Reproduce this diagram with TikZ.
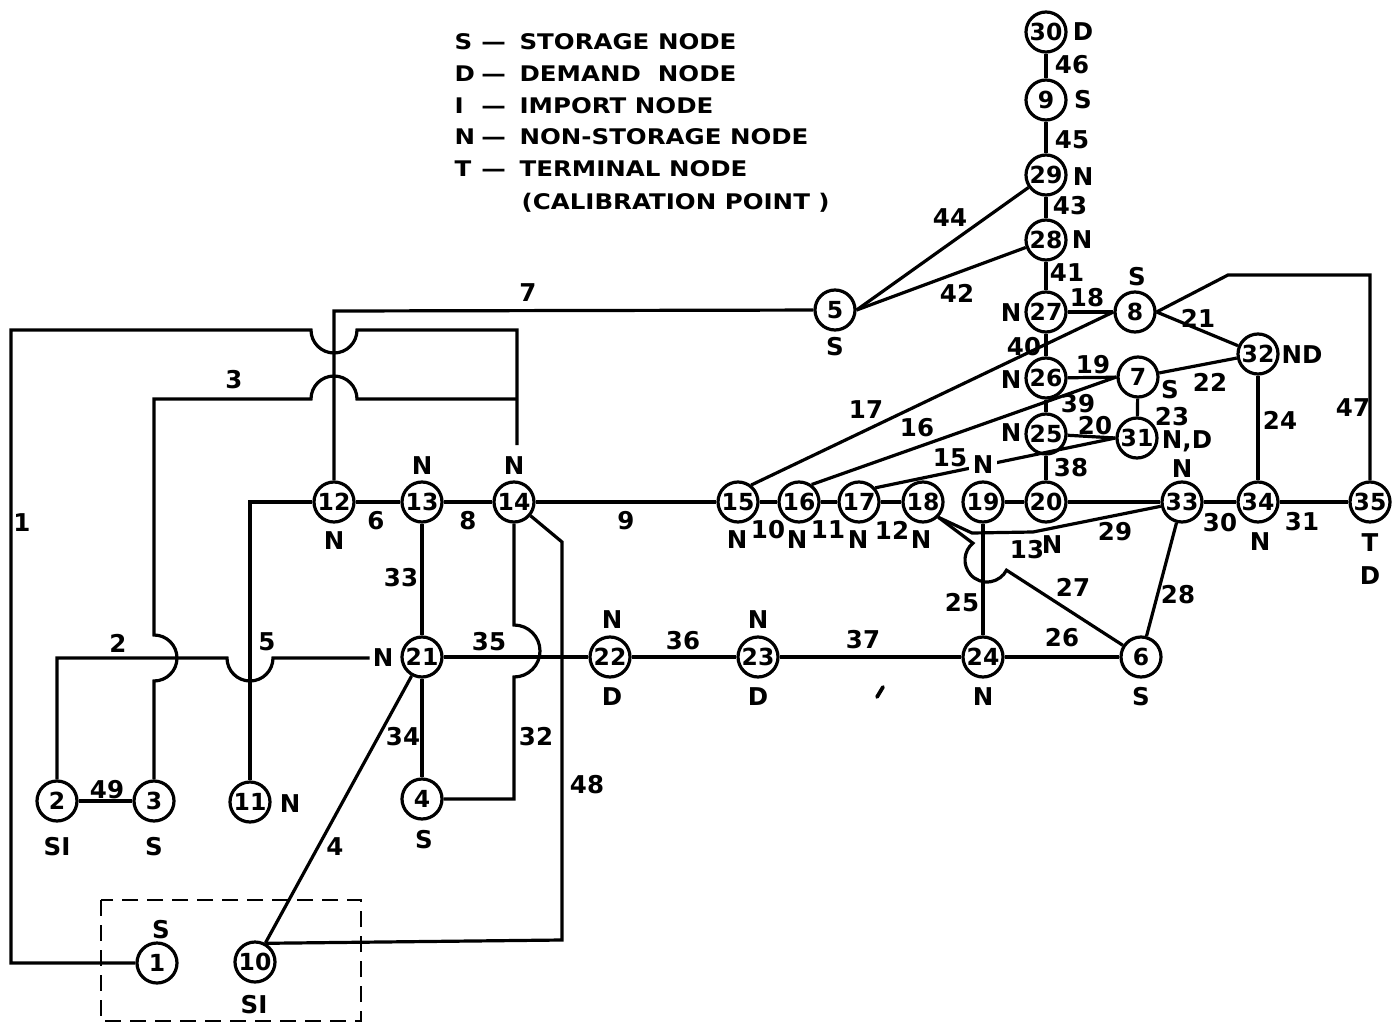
\documentclass[tikz,border=0pt]{standalone}
\usepackage{fontspec}
\setmainfont{DejaVu Sans}
\usepackage{graphicx}
\begin{document}
\begin{tikzpicture}[x=1pt,y=-1pt,line width=3.2pt,
  every node/.style={font=\fontsize{24.5}{28}\selectfont\bfseries},
  nd/.style={circle,draw,line width=3.2pt,minimum size=40pt,inner sep=0pt,
    font=\fontsize{23.5}{27}\selectfont\bfseries},
  lb/.style={inner sep=1.5pt},
  wl/.style={inner sep=4pt,fill=white},
  lg/.style={anchor=base west,inner sep=0pt,font=\fontsize{21.5}{26}\selectfont\bfseries}]
\useasboundingbox (0,0) rectangle (1394,1024);

% ---------- legend ----------
\node[lg] (lg1) at (453,50)  {\scalebox{1.14}[1]{\makebox[23.5pt][l]{S}—\hspace{12pt}STORAGE NODE}};
\node[lg] (lg2) at (453,82)  {\scalebox{1.14}[1]{\makebox[23.5pt][l]{D}—\hspace{12pt}DEMAND\ \ NODE}};
\node[lg] (lg3) at (453,114) {\scalebox{1.14}[1]{\makebox[23.5pt][l]{I}—\hspace{12pt}IMPORT NODE}};
\node[lg] (lg4) at (453,145) {\scalebox{1.14}[1]{\makebox[23.5pt][l]{N}—\hspace{12pt}NON-STORAGE NODE}};
\node[lg] (lg5) at (453,177) {\scalebox{1.14}[1]{\makebox[23.5pt][l]{T}—\hspace{12pt}TERMINAL NODE}};
\node[lg] (lg6) at (520,210) {\scalebox{1.14}[1]{(CALIBRATION POINT )}};

% ---------- circle nodes ----------
\foreach \n/\x/\y in {30/1046/32, 9/1046/100, 29/1046/175, 28/1046/240,
  27/1046/312, 8/1135/312, 5/835/310, 26/1046/378, 7/1138/377, 32/1258/354,
  25/1046/434, 31/1137/438, 20/1046/502, 19/983/502, 18/923/502, 17/859/502,
  16/799/502, 15/738/502, 14/514/502, 13/422/502, 12/334/502, 33/1182/502,
  34/1258/502, 35/1370/502, 21/422/657, 22/610/657, 23/758/657, 24/983/657,
  6/1141/657, 2/57/801, 3/154/801, 11/250/802, 4/422/799, 1/157/963, 10/255/962}
  \node[nd] (c\n) at (\x,\y) {\n};

% ---------- node type labels ----------
\foreach \nm/\t/\x/\y in {l30/D/1083/32, l9/S/1083/100, l29/N/1083/177,
  l28/N/1082/240, l27/N/1011/313, l8/S/1137/277, l5/S/835/347, l26/N/1011/380,
  l7/S/1170/390, l32/ND/1302/355, l25/N/1011/433, l31/{N,D}/1187/441,
  l33/N/1182/469, l34/N/1260/542, l35t/T/1370/543, l35d/D/1370/576,
  l15/N/737/540, l16/N/797/540, l17/N/858/540, l18/N/921/540, l12/N/334/541,
  l13/N/422/466, l14/N/514/466, l22n/N/612/620, l22d/D/612/697,
  l23n/N/758/620, l23d/D/758/697, l24/N/983/697, l6/S/1141/697,
  l2/SI/57/847, l3/S/154/847, l11/N/290/804, l4/S/424/840, l1/S/161/930,
  l10/SI/254/1005, n21/N/383/658, l13n/N/1052/545}
  \node[lb] (\nm) at (\x,\y) {\t};

% ---------- edge labels ----------
\foreach \t/\x/\y in {46/1072/65, 45/1072/140, 43/1070/206, 41/1067/273,
  44/950/218, 42/957/293, 7/528/293, 18/1087/298, 40/1024/347, 19/1093/365,
  23/1172/417, 21/1198/318, 22/1210/382,
  24/1280/420, 47/1353/408, 38/1071/468, 17/866/410, 16/917/428, 15/950/458,
  30/1220/523, 31/1302/522, 29/1115/532, 13/1027/550, 27/1073/587,
  28/1178/595, 25/962/603, 26/1062/638, 37/863/640, 36/683/641, 35/489/642,
  33/401/578, 34/403/737, 32/536/737, 48/587/785, 4/335/847, 49/107/790,
  2/118/643, 5/267/642, 3/234/380, 1/22/523, 6/376/521, 8/468/521,
  9/626/521, 10/768/530, 11/828/530, 12/892/530}
  \node[lb] (e\t) at (\x,\y) {\t};
\node[inner sep=0pt] (e39) at (1078,404) {39};
\node[inner sep=0pt] (e20) at (1095,426) {20};

% ---------- bend coordinates ----------
\coordinate (p1a) at (11,963);
\coordinate (p1b) at (11,330);
\coordinate (p1c) at (311,330);
\coordinate (p1d) at (517,330);
\coordinate (p1e) at (517,445);
\coordinate (p3a) at (154,681);
\coordinate (p3b) at (154,399);
\coordinate (p3c) at (311,399);
\coordinate (p3d) at (517,399);
\coordinate (p2a) at (57,658);
\coordinate (p2b) at (227,658);
\coordinate (p5a) at (250,502);
\coordinate (p7a) at (334,311);
\coordinate (p32a) at (514,625);
\coordinate (p32b) at (514,799);
\coordinate (p48a) at (562,542);
\coordinate (p48b) at (562,940);
\coordinate (p27a) at (972.86,543.15);
\coordinate (p13a) at (972,533);
\coordinate (p13b) at (1033,532);
\coordinate (p47a) at (1228,275);
\coordinate (p47b) at (1370,275);

% ---------- connectors ----------
\foreach \a/\b in {2/3, 13/21, 21/4, 21/10, 12/13, 13/14, 14/15, 15/16, 16/17,
  17/18, 19/20, 20/33, 33/34, 34/35, 21/22, 22/23, 23/24, 24/6, 19/24, 33/6,
  30/9, 9/29, 29/28, 28/27, 27/26, 26/25, 25/20, 27/8, 26/7, 7/31, 7/32, 32/34}
  \draw (c\a) -- (c\b);

\draw (c5.east) -- (c29);
\draw (c5.east) -- (c28);
\draw (c15.52) -- (c8.west);
\draw (c16.54) -- (c7.west);
\draw (c17.41) -- (c31.west);
\draw (c25) -- (c31.west);
\draw (c8.east) -- (c32);
\draw (c8.east) -- (p47a) -- (p47b) -- (c35);
\draw (c5) -- (p7a) -- (c12);
\draw (c11) -- (p5a) -- (c12);
\draw (c1) -- (p1a) -- (p1b) -- (p1c) arc[start angle=180,end angle=0,radius=23] -- (p1d) -- (p1e);
\draw (c3) -- (p3a) arc[start angle=90,end angle=-90,radius=23] -- (p3b) -- (p3c)
  arc[start angle=180,end angle=360,radius=23] -- (p3d);
\draw (c2) -- (p2a) -- (p2b) arc[start angle=180,end angle=0,radius=23] -- (n21);
\draw (c14) -- (p32a) arc[start angle=-90,end angle=90,radius=26] -- (p32b) -- (c4);
\draw (c14) -- (p48a) -- (p48b) -- (c10.60);
\draw (c18.-45) -- (p13a) -- (p13b) -- (c33);
\draw (c18.-45) -- (p27a) arc[start angle=230,end angle=27.6,radius=22] -- (c6);

% label that interrupts edge 15
\node[wl] (l19) at (983,465) {N};

% dashed enclosure
\draw[dash pattern=on 16pt off 9pt,line width=2.9pt] (101,900) rectangle (361,1021);
% stray mark
\draw[line width=3.8pt,line cap=round] (877,697) -- (883,687);
\end{tikzpicture}
\end{document}
